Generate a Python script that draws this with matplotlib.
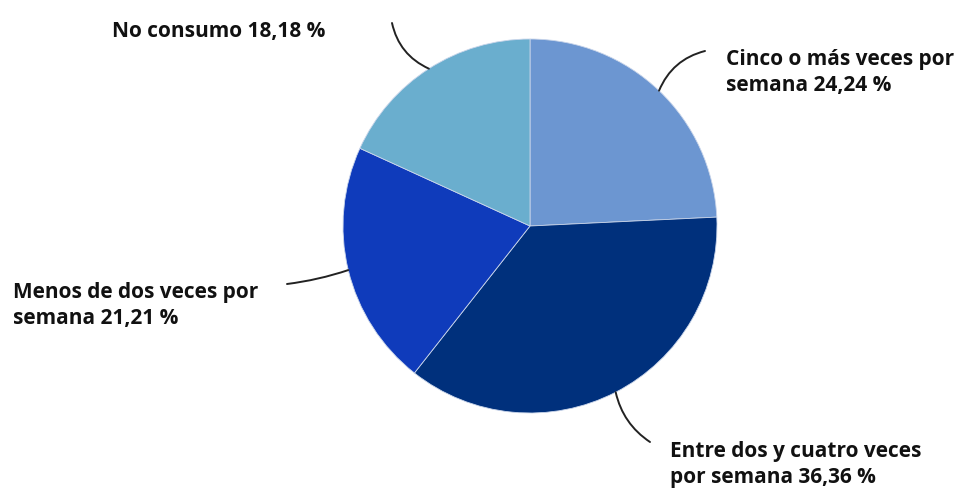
import numpy as np
import matplotlib
matplotlib.use("Agg")
import matplotlib.pyplot as plt

# Frecuencia de consumo (porcentaje de encuestados)
labels = ["Cinco o más veces por\nsemana 24,24 %",
          "Entre dos y cuatro veces\npor semana 36,36 %",
          "Menos de dos veces por\nsemana 21,21 %",
          "No consumo 18,18 %"]
values = [24.24, 36.36, 21.21, 18.18]
colors = ["#6C96D1", "#00307C", "#0F3BBB", "#6AAECE"]

# Posición de cada etiqueta (x, y en píxeles, y hacia arriba) y extremo del conector
label_pos = [(726, 442), (670, 50), (13, 209), (112, 470)]
line_end = [(705, 440), (650, 49), (287, 207), (392, 468)]
line_rad = [0.25, -0.2, 0.05, 0.25]

W, H = 969, 491
fig = plt.figure(figsize=(W / 100, H / 100), dpi=100)
ax = fig.add_axes([0, 0, 1, 1])

center = (530, H - 226)
radius = 187
wedges, _ = ax.pie(values, colors=colors, startangle=90, counterclock=False,
                   center=center, radius=radius, frame=True,
                   wedgeprops=dict(edgecolor="#c9d5ea", linewidth=0.6))
ax.set_xlim(0, W)
ax.set_ylim(0, H)
ax.set_aspect("equal")
ax.axis("off")

font = dict(family=["Open Sans", "DejaVu Sans"], fontsize=15, fontweight="bold",
            color="#111111")

for w, lab, (tx, ty), (ex, ey), rad in zip(wedges, labels, label_pos, line_end, line_rad):
    mid = np.deg2rad((w.theta1 + w.theta2) / 2)
    px = center[0] + radius * np.cos(mid)
    py = center[1] + radius * np.sin(mid)
    ax.annotate("", xy=(px, py), xytext=(ex, ey),
                arrowprops=dict(arrowstyle="-", color="#222222", lw=1.4,
                                shrinkA=0, shrinkB=0,
                                connectionstyle=f"arc3,rad={rad}"))
    ax.text(tx, ty, lab, ha="left", va="top", linespacing=1.33, **font)

fig.savefig("out.png", dpi=100, facecolor="white")
